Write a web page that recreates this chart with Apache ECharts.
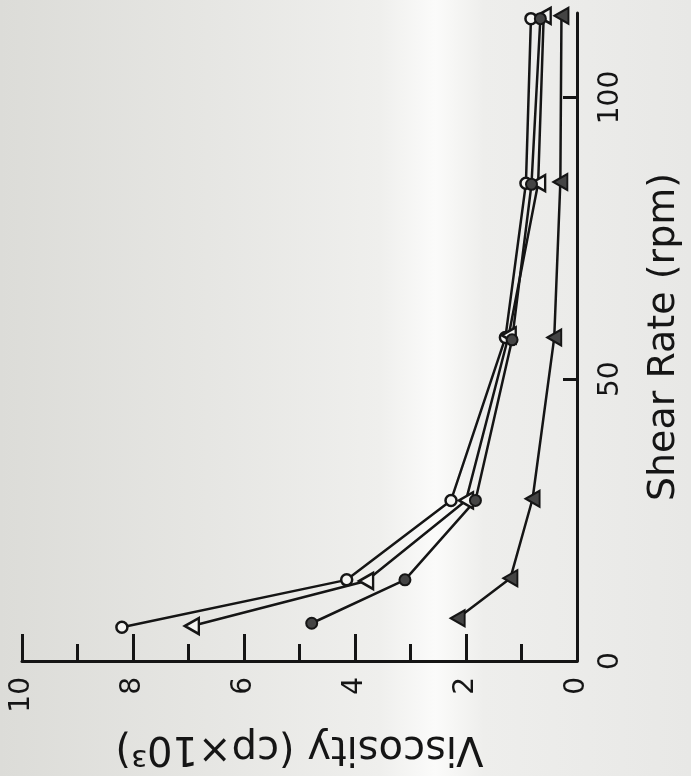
<!DOCTYPE html>
<html>
<head>
<meta charset="utf-8">
<script src="https://cdn.jsdelivr.net/npm/echarts@6/dist/echarts.min.js"></script>
<style>
  html, body { margin: 0; padding: 0; }
  body {
    width: 691px; height: 776px;
    background: linear-gradient(90deg, #dcdcd8 0%, #e6e6e3 30%, #efefed 55%, #fbfbfa 63%, #eeeeec 70%, #e8e8e6 100%);
  }
  #chart { width: 691px; height: 776px; }
</style>
</head>
<body>
<div id="chart"></div>
<script>
// Shear rate (rpm) and viscosity (cp x 10^3) for each of the four samples
const shearOpenCircle   = [6.0, 14.4, 28.5, 57.4, 84.8, 114.0];
const viscOpenCircle    = [8.2, 4.15, 2.27, 1.29, 0.92, 0.83];
const shearOpenTriangle = [6.2, 14.2, 28.5, 57.8, 84.8, 114.5];
const viscOpenTriangle  = [6.94, 3.8, 2.0, 1.23, 0.70, 0.60];
const shearFilledCircle = [6.7, 14.4, 28.5, 57.0, 84.6, 114.0];
const viscFilledCircle  = [4.78, 3.1, 1.83, 1.17, 0.82, 0.66];
const shearFilledTriangle = [7.6, 14.7, 28.8, 57.4, 85.0, 114.5];
const viscFilledTriangle  = [2.15, 1.2, 0.80, 0.41, 0.30, 0.28];

const viscTickLabels = ['0', '2', '4', '6', '8', '10'];
const shearTickLabels = ['0', '50', '100'];

function pairs(visc, shear) { return visc.map((v, i) => [v, shear[i]]); }

const INK = '#151515';
const lineStyle = { color: INK, width: 2.5 };

const chart = echarts.init(document.getElementById('chart'), null, { renderer: 'canvas' });
chart.setOption({
  backgroundColor: 'transparent',
  animation: false,
  grid: { left: 22, right: 106, top: 13, bottom: 115, containLabel: false },
  xAxis: {
    type: 'value', min: 0, max: 10, interval: 2, inverse: true,
    position: 'bottom',
    name: 'Viscosity (cp×10³)',
    nameLocation: 'middle', nameGap: 66, nameRotate: 180,
    nameTextStyle: { color: INK, fontSize: 40, fontFamily: 'DejaVu Sans' },
    axisLine: { show: true, lineStyle: { color: INK, width: 3 } },
    axisTick: { show: true, inside: true, length: 27, lineStyle: { color: INK, width: 3 } },
    minorTick: { show: true, splitNumber: 2, length: 17, lineStyle: { color: INK, width: 3 } },
    splitLine: { show: false },
    axisLabel: {
      rotate: 90, margin: 16, color: INK, fontSize: 28, fontFamily: 'DejaVu Sans',
      formatter: v => viscTickLabels[viscTickLabels.indexOf(String(v))] || ''
    }
  },
  yAxis: {
    type: 'value', min: 0, max: 115, interval: 50,
    position: 'right',
    name: 'Shear Rate (rpm)',
    nameLocation: 'middle', nameGap: 68, nameRotate: 90,
    nameTextStyle: { color: INK, fontSize: 38, fontFamily: 'DejaVu Sans' },
    axisLine: { show: true, lineStyle: { color: INK, width: 3 } },
    axisTick: { show: true, inside: true, length: 14, lineStyle: { color: INK, width: 3 } },
    splitLine: { show: false },
    axisLabel: {
      rotate: 90, margin: 20, color: INK, fontSize: 28, fontFamily: 'DejaVu Sans',
      showMaxLabel: false,
      formatter: v => shearTickLabels[shearTickLabels.indexOf(String(v))] || ''
    }
  },
  series: [
    {
      type: 'line', data: pairs(viscOpenCircle, shearOpenCircle),
      lineStyle, symbol: 'circle', symbolSize: 11,
      itemStyle: { color: '#f4f4f2', borderColor: INK, borderWidth: 2.5 }
    },
    {
      type: 'line', data: pairs(viscOpenTriangle, shearOpenTriangle),
      lineStyle, symbol: 'triangle', symbolSize: [16, 14], symbolRotate: 90,
      itemStyle: { color: '#f4f4f2', borderColor: INK, borderWidth: 2.5 }
    },
    {
      type: 'line', data: pairs(viscFilledCircle, shearFilledCircle),
      lineStyle, symbol: 'circle', symbolSize: 11,
      itemStyle: { color: '#444', borderColor: INK, borderWidth: 2 }
    },
    {
      type: 'line', data: pairs(viscFilledTriangle, shearFilledTriangle),
      lineStyle, symbol: 'triangle', symbolSize: [16, 14], symbolRotate: 90,
      itemStyle: { color: '#444', borderColor: INK, borderWidth: 2 }
    }
  ]
});
</script>
</body>
</html>
